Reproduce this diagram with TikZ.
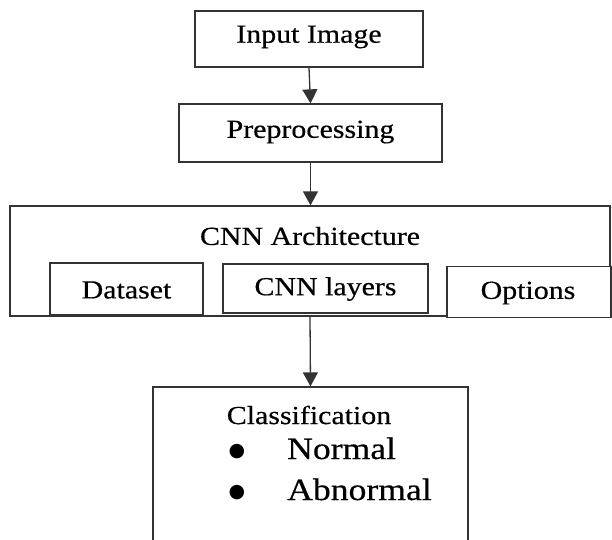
\documentclass[tikz,border=0pt]{standalone}
\usepackage{fontspec}
\setmainfont[FakeStretch=1.15,FakeBold=0.45]{Liberation Serif}
\newfontfamily\dejavu{DejaVu Sans}
\usetikzlibrary{arrows.meta}
\newcommand{\bigbullet}{\llap{\raisebox{3pt}{\dejavu\fontsize{19}{22}\selectfont ●}\hspace{42pt}}}
\begin{document}
\begin{tikzpicture}[x=1pt,y=-1pt,
  box/.style={draw=black!80, line width=1.3pt, inner sep=0pt},
  lbl/.style={font=\fontsize{26}{30}\selectfont, inner sep=0pt},
  big/.style={font=\fontsize{31}{36}\selectfont, inner sep=0pt},
  arr/.style={draw=black!80, line width=1.3pt, -{Triangle[width=15pt,length=14pt]}}]
\useasboundingbox (0,0) rectangle (612,539);
\clip (0,0) rectangle (612,539);
% boxes
\node[box, minimum width=228pt, minimum height=56pt] (in) at (309,39) {};
\node[lbl] at (309,37) {Input Image};
\node[box, minimum width=263pt, minimum height=58pt] (pre) at (310.5,133) {};
\node[lbl] at (310.5,132) {Preprocessing};
\node[box, minimum width=600pt, minimum height=110pt] (cnn) at (310,261) {};
\node[lbl] (cnnt) at (310,236) {CNN Architecture};
\node[box, minimum width=153pt, minimum height=52pt] (ds) at (126.5,289) {};
\node[lbl] at (126.5,290) {Dataset};
\node[box, minimum width=205pt, minimum height=49pt] (cl) at (325.5,288.5) {};
\node[lbl] at (325.5,289) {CNN layers};
\node[box, fill=white, minimum width=164pt, minimum height=51pt] (op) at (529,292) {};
\node[lbl] at (528,293) {Options};
\node[box, minimum width=315pt, minimum height=200pt] (cls) at (310.5,487) {};
\node[lbl] (clst) at (309,415) {Classification};
\node[big, anchor=base west] (nor) at (287,459) {\bigbullet Normal};
\node[big, anchor=base west] (abn) at (287,500) {\bigbullet Abnormal};
% arrows
\draw[arr] (in.south) -- (pre.north);
\draw[arr] (pre.south) -- (pre.south |- cnn.north);
\draw[arr] (cnn.south) -- (cls.north);
\end{tikzpicture}
\end{document}
